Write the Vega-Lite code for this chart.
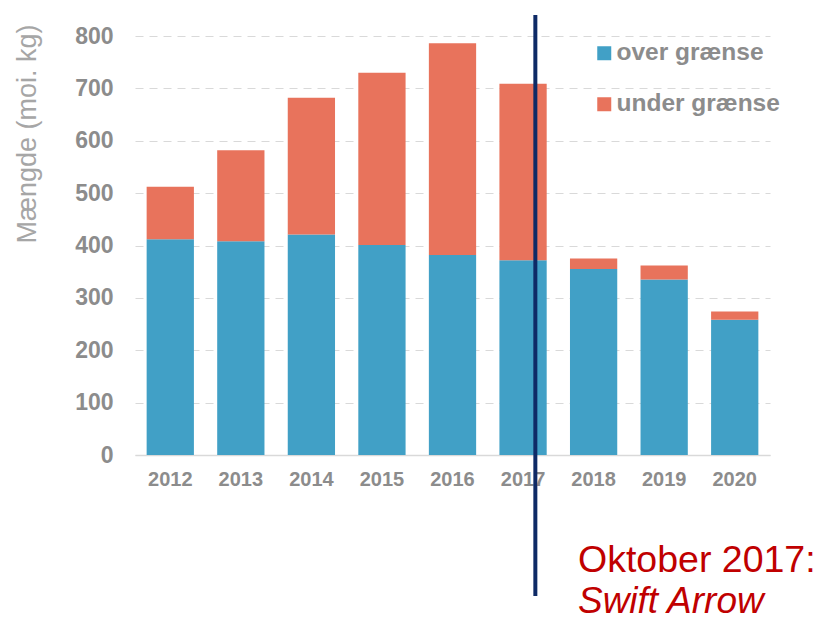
{
  "$schema": "https://vega.github.io/schema/vega-lite/v6.json",
  "autosize": {"type": "none"},
  "padding": {"left": 135, "top": 36, "right": 51, "bottom": 167},
  "width": 635,
  "height": 419,
  "background": "white",
  "config": {
    "view": {"stroke": null},
    "font": "Liberation Sans"
  },
  "layer": [
    {
      "data": {
        "values": [
          {"year": "2012", "category": "over grænse", "value": 412},
          {"year": "2012", "category": "under grænse", "value": 100},
          {"year": "2013", "category": "over grænse", "value": 408},
          {"year": "2013", "category": "under grænse", "value": 174},
          {"year": "2014", "category": "over grænse", "value": 421},
          {"year": "2014", "category": "under grænse", "value": 261},
          {"year": "2015", "category": "over grænse", "value": 401},
          {"year": "2015", "category": "under grænse", "value": 329},
          {"year": "2016", "category": "over grænse", "value": 382},
          {"year": "2016", "category": "under grænse", "value": 404},
          {"year": "2017", "category": "over grænse", "value": 372},
          {"year": "2017", "category": "under grænse", "value": 337},
          {"year": "2018", "category": "over grænse", "value": 355},
          {"year": "2018", "category": "under grænse", "value": 20},
          {"year": "2019", "category": "over grænse", "value": 335},
          {"year": "2019", "category": "under grænse", "value": 27},
          {"year": "2020", "category": "over grænse", "value": 258},
          {"year": "2020", "category": "under grænse", "value": 16}
        ]
      },
      "mark": {"type": "bar"},
      "encoding": {
        "x": {
          "field": "year",
          "type": "nominal",
          "scale": {"paddingInner": 0.33, "paddingOuter": 0.165},
          "axis": {
            "title": null,
            "labelAngle": 0,
            "labelFontSize": 20,
            "labelFontWeight": "bold",
            "labelColor": "#8c8c8c",
            "labelPadding": 14,
            "ticks": false,
            "domain": true,
            "domainColor": "#d9d9d9",
            "domainWidth": 1.5,
            "grid": false
          }
        },
        "y": {
          "field": "value",
          "type": "quantitative",
          "stack": "zero",
          "scale": {"domain": [0, 800], "nice": false},
          "axis": {
            "title": "Mængde (moi. kg)",
            "titleFontSize": 27,
            "titleFontWeight": "normal",
            "titleColor": "#a6a6a6",
            "titleAngle": 270,
            "titleAlign": "right",
            "titleBaseline": "middle",
            "titleX": -108,
            "titleY": -12,
            "values": [0, 100, 200, 300, 400, 500, 600, 700, 800],
            "labelFontSize": 23,
            "labelFontWeight": "bold",
            "labelColor": "#8c8c8c",
            "labelPadding": 22,
            "ticks": false,
            "domain": false,
            "grid": true,
            "gridColor": "#d9d9d9",
            "gridDash": [8, 6],
            "gridWidth": 1
          }
        },
        "color": {
          "field": "category",
          "type": "nominal",
          "scale": {
            "domain": ["over grænse", "under grænse"],
            "range": ["#41a0c6", "#e8735c"]
          },
          "legend": {
            "title": null,
            "orient": "none",
            "legendX": 457,
            "legendY": 5,
            "symbolType": "square",
            "symbolSize": 196,
            "symbolStrokeWidth": 0,
            "labelFontSize": 24.5,
            "labelFontWeight": "bold",
            "labelColor": "#8c8c8c",
            "labelOffset": 0,
            "labelLimit": 0,
            "rowPadding": 26
          }
        },
        "order": {"field": "category", "sort": "ascending"}
      }
    },
    {
      "data": {"values": [{"year": "2017", "top": 840, "bottom": -269}]},
      "mark": {"type": "rule", "color": "#0e2a66", "strokeWidth": 4, "clip": false},
      "encoding": {
        "x": {"field": "year", "type": "nominal", "bandPosition": 0.76},
        "y": {"field": "top", "type": "quantitative"},
        "y2": {"field": "bottom"}
      }
    },
    {
      "data": {"values": [{"year": "2018", "pos": -224, "label": "Oktober 2017:"}]},
      "mark": {"type": "text", "align": "left", "baseline": "alphabetic", "dx": 8, "fontSize": 37.5, "color": "#c00000", "font": "Liberation Sans"},
      "encoding": {
        "x": {"field": "year", "type": "nominal", "bandPosition": 0},
        "y": {"field": "pos", "type": "quantitative"},
        "text": {"field": "label"}
      }
    },
    {
      "data": {"values": [{"year": "2018", "pos": -302, "label": "Swift Arrow"}]},
      "mark": {"type": "text", "align": "left", "baseline": "alphabetic", "dx": 8, "fontSize": 37, "fontStyle": "italic", "color": "#c00000", "font": "Liberation Sans"},
      "encoding": {
        "x": {"field": "year", "type": "nominal", "bandPosition": 0},
        "y": {"field": "pos", "type": "quantitative"},
        "text": {"field": "label"}
      }
    }
  ]
}
